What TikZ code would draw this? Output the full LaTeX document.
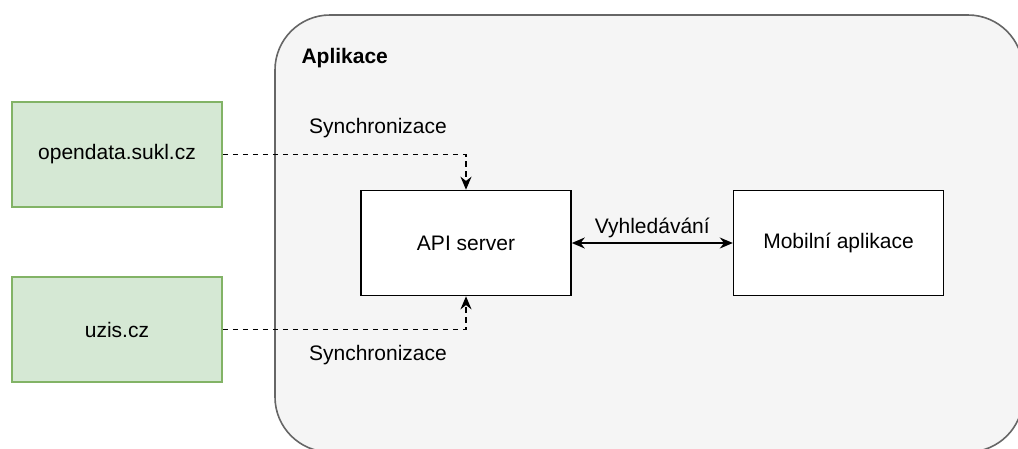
\documentclass[tikz,border=0pt]{standalone}
\usepackage{fontspec}
\setmainfont{Liberation Sans}
\usetikzlibrary{arrows.meta,positioning}

\definecolor{appfill}{HTML}{F5F5F5}
\definecolor{appline}{HTML}{666666}
\definecolor{srcfill}{HTML}{D5E8D4}
\definecolor{srcline}{HTML}{82B366}

\begin{document}
\begin{tikzpicture}[x=1pt,y=-1pt,node distance=161pt,
    font=\fontsize{21}{25}\selectfont,
    box/.style={rectangle, draw=black, line width=1.6pt, fill=white,
                minimum width=210pt, minimum height=105pt},
    source/.style={rectangle, draw=srcline, line width=1.6pt, fill=srcfill,
                   minimum width=210pt, minimum height=105pt},
    sync/.style={dashed, dash pattern=on 5.5pt off 4.5pt, line width=1.6pt,
                 -{Stealth[length=13pt,width=11pt]}}]
    \useasboundingbox (0,0) rectangle (1018,448);
    % the application area
    \begin{scope}
      \clip (0,0) rectangle (1018,448);
      \draw[draw=appline, fill=appfill, line width=1.6pt, rounded corners=55pt]
            (275,15) rectangle (1023,452);
    \end{scope}
    \node (app_label) [anchor=west, font=\fontsize{21}{25}\selectfont\bfseries]
          at (298,58) {Aplikace};

    \node (api) [box] at (466,243) {API server};
    \node (mobile) [box] [right=of api] {Mobilní aplikace};

    \node (opendata) [source] at (117,154.5) {opendata.sukl.cz};
    \node (uzis) [source] at (117,329.5) {uzis.cz};

    \draw [sync] (opendata.east) -| (api.north);
    \draw [sync] (uzis.east) -| (api.south);
    \node (sync_top) at (378,128) {Synchronizace};
    \node (sync_bottom) at (378,355) {Synchronizace};

    \draw [{Stealth[length=13pt,width=11pt]}-{Stealth[length=13pt,width=11pt]},
           line width=1.6pt] (api) -- node [above=1pt] {Vyhledávání} (mobile);
  \end{tikzpicture}
\end{document}
